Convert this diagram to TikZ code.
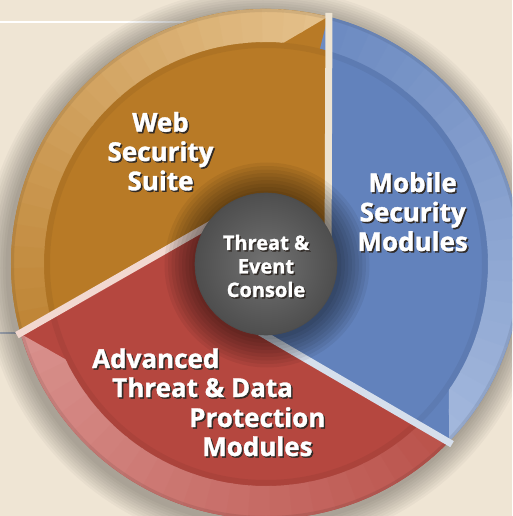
\documentclass[tikz,border=0pt]{standalone}
\usepackage{fontspec}
\setmainfont{Open Sans}[BoldFont={Open Sans Bold}, BoldFeatures={FakeBold=1.3}]
\usepackage{tikz}

\definecolor{bgcol}{RGB}{239,229,212}
\definecolor{webmain}{RGB}{184,122,38}
\definecolor{webrim}{RGB}{228,192,138}
\definecolor{mobmain}{RGB}{98,130,188}
\definecolor{mobrim}{RGB}{162,183,220}
\definecolor{atpmain}{RGB}{181,71,63}
\definecolor{atprim}{RGB}{216,144,140}
\definecolor{webline}{RGB}{238,228,210}
\definecolor{atpline}{RGB}{242,216,208}
\definecolor{mobline}{RGB}{214,223,236}
\definecolor{consolein}{RGB}{114,114,114}
\definecolor{consoleout}{RGB}{78,78,78}
\definecolor{textshadow}{RGB}{48,42,38}

% white text with a dark drop shadow
\newcommand{\shadowed}[1]{\rlap{\kern1.5pt\raisebox{-1.5pt}{\color{textshadow}#1}}#1}

\begin{document}
\begin{tikzpicture}[x=1pt, y=1pt]
    \tikzstyle{lbl} = [text=white, anchor=base, inner sep=0pt, font=\bfseries\fontsize{26}{30}\selectfont];
    \tikzstyle{small lbl} = [lbl, font=\bfseries\fontsize{20}{24}\selectfont];
    \tikzstyle{divider} = [line width=7pt];
    \tikzstyle{console} = [circle, minimum size=142pt, inner sep=0pt, inner color=consolein, outer color=consoleout, draw=black!70, line width=0.6pt];
    \def\Rout{255}
    \def\rin{222}
    \def\off{62}
    \def\tilt{75.93}

    % Background
    \useasboundingbox (-266,-252) rectangle (246,264);
    \clip (-266,-252) rectangle (246,264);
    \fill[bgcol] (-266,-252) rectangle (246,264);
    \draw[white, line width=2pt] (-266,242) -- (-70,242);
    \draw[black!20!mobline, line width=1.5pt] (-266,-69) -- (-246,-69);
    \foreach \k in {1,...,10}
        \fill[black, fill opacity=0.03] (-3,-4) circle ({\Rout+2.5*\k});

    % Sectors and rims
    \foreach \p/\main/\rim in {0/webmain/webrim, 120/atpmain/atprim, 240/mobmain/mobrim} {
        \fill[\main] (0,0) -- (\p:\off) -- ({\p+\tilt}:\Rout)
            arc[start angle={\p+\tilt}, end angle={\p+\tilt+120}, radius=\Rout]
            -- ({\p+120}:\off) -- cycle;
        \begin{scope}
            \clip ({\p+\tilt}:\Rout)
                arc[start angle={\p+\tilt}, end angle={\p+\tilt+120}, radius=\Rout]
                -- ({\p+\tilt+120}:\rin)
                arc[start angle={\p+\tilt+120}, end angle={\p+\tilt+9.5}, radius=\rin] -- cycle;
            \foreach \k in {0,...,23} {
                \pgfmathsetmacro\mixp{100-3.6*\k}
                \fill[\rim!\mixp!\main] (0,0) -- ({\p+\tilt+5*\k}:270)
                    arc[start angle={\p+\tilt+5*\k}, end angle={\p+\tilt+5*\k+5.6}, radius=270] -- cycle;
            }
        \end{scope}
    }
    \fill[black, fill opacity=0.05, even odd rule] (0,0) circle (\rin) (0,0) circle (\rin-6);
    \draw[black, opacity=0.08, line width=3pt] (0,0) circle (\Rout-1.5);

    % Dividers
    \foreach \p/\divcol in {0/webline, 120/atpline, 240/mobline}
        \draw[divider, \divcol] (\p:\off) -- ({\p+\tilt}:\Rout+4);

    % Shadow of the console
    \foreach \k in {1,...,9}
        \fill[black, fill opacity=0.06] (1,-1) circle ({71+3.5*\k});

    % Nodes
    \node[console] (console) at (0,0) {};

    \node[lbl] (web1) at (-105.5,132.3) {\shadowed{Web}};
    \node[lbl] (web2) at (-105.5,103) {\shadowed{Security}};
    \node[lbl] (web3) at (-105.5,73.7) {\shadowed{Suite}};

    \node[lbl] (mob1) at (146.7,72) {\shadowed{Mobile}};
    \node[lbl] (mob2) at (146.7,42.5) {\shadowed{Security}};
    \node[lbl] (mob3) at (146.7,13) {\shadowed{Modules}};

    \node[lbl, anchor=base west] (atp1) at (-174,-104) {\shadowed{Advanced}};
    \node[lbl, anchor=base west] (atp2) at (-154,-133) {\shadowed{Threat \& Data}};
    \node[lbl, anchor=base west] (atp3) at (-77,-163) {\shadowed{Protection}};
    \node[lbl, anchor=base west] (atp4) at (-64,-192) {\shadowed{Modules}};

    \node[small lbl] (con1) at (0,14) {\shadowed{Threat \&}};
    \node[small lbl] (con2) at (0,-9.5) {\shadowed{Event}};
    \node[small lbl] (con3) at (0,-33) {\shadowed{Console}};
\end{tikzpicture}
\end{document}
